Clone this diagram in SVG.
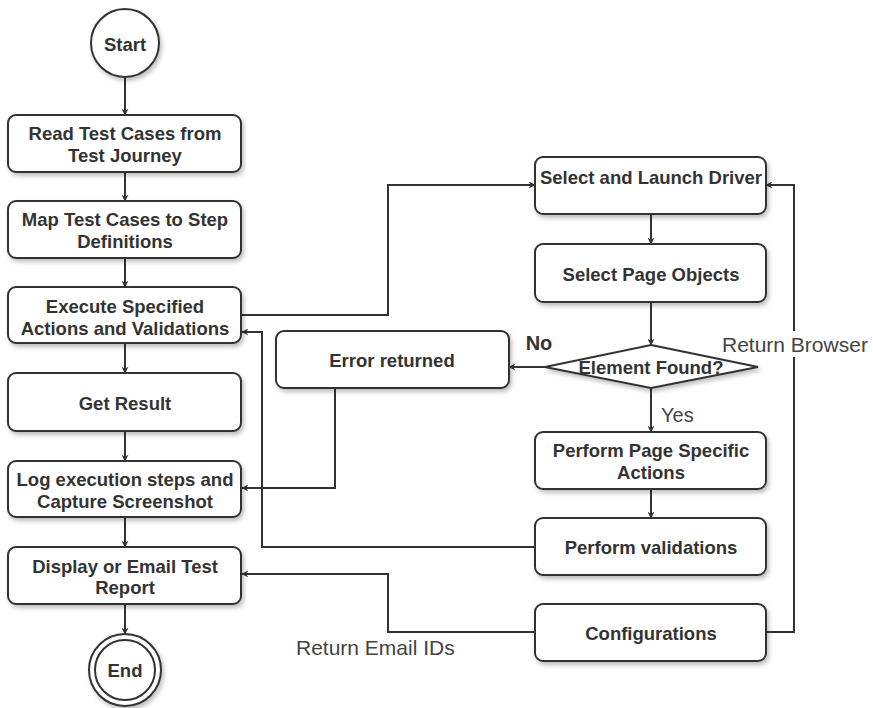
<svg xmlns="http://www.w3.org/2000/svg" width="873" height="708" viewBox="0 0 873 708">
<defs>
<filter id="sh" x="-10%" y="-10%" width="125%" height="140%">
<feDropShadow dx="2" dy="3" stdDeviation="2" flood-color="#000" flood-opacity="0.25"/>
</filter>
<marker id="ah" viewBox="0 0 10 10" refX="9" refY="5" markerWidth="7" markerHeight="7" orient="auto" markerUnits="userSpaceOnUse">
<path d="M0,0 L10,5 L0,10 L3,5 Z" fill="#333"/>
</marker>
<style>
.n{fill:#fff;stroke:#333;stroke-width:2;filter:url(#sh)}
.t{font-family:"Liberation Sans",Arial,sans-serif;font-weight:bold;font-size:18.5px;fill:#333;text-anchor:middle}
.c{fill:none;stroke:#333;stroke-width:2;marker-end:url(#ah)}
.l{font-family:"Liberation Sans",Arial,sans-serif;font-size:21px;fill:#444}
</style>
</defs>
<rect width="873" height="708" fill="#fff"/>
<g id="connectors">
<path class="c" d="M125,77 V115"/>
<path class="c" d="M125,172 V201"/>
<path class="c" d="M125,258 V287"/>
<path class="c" d="M125,343 V373"/>
<path class="c" d="M125,431 V461"/>
<path class="c" d="M125,517 V547"/>
<path class="c" d="M125,604 V634"/>
<path class="c" d="M242,315 H388 V185 H535"/>
<path class="c" d="M651,214 V244"/>
<path class="c" d="M651,302 V345"/>
<path class="c" d="M545,367 H509"/>
<path class="c" d="M651,387 V432"/>
<path class="c" d="M651,489 V518"/>
<path class="c" d="M535,547 H262 V332 H242"/>
<path class="c" d="M335,388 V488 H242"/>
<path class="c" d="M535,632 H388 V574 H242"/>
<path class="c" d="M766,632 H794 V185 H766"/>
</g>
<g id="start"><circle class="n" cx="125" cy="43" r="34"/><text class="t" x="125" y="51">Start</text></g>
<g id="read"><rect class="n" x="8" y="115" width="233" height="57" rx="8"/><text class="t" x="125" y="139.5">Read Test Cases from</text><text class="t" x="125" y="161.5">Test Journey</text></g>
<g id="map"><rect class="n" x="8" y="201" width="233" height="57" rx="8"/><text class="t" x="125" y="225.5">Map Test Cases to Step</text><text class="t" x="125" y="247.5">Definitions</text></g>
<g id="execute"><rect class="n" x="8" y="287" width="233" height="56" rx="8"/><text class="t" x="125" y="313">Execute Specified</text><text class="t" x="125" y="335">Actions and Validations</text></g>
<g id="result"><rect class="n" x="8" y="373" width="233" height="58" rx="8"/><text class="t" x="125" y="409.5">Get Result</text></g>
<g id="log"><rect class="n" x="8" y="461" width="233" height="56" rx="8"/><text class="t" x="125" y="485.5">Log execution steps and</text><text class="t" x="125" y="507.5">Capture Screenshot</text></g>
<g id="display"><rect class="n" x="8" y="547" width="233" height="57" rx="8"/><text class="t" x="125" y="572.5">Display or Email Test</text><text class="t" x="125" y="593.5">Report</text></g>
<g id="end"><circle class="n" cx="125" cy="670" r="36"/><circle cx="125" cy="670" r="30" fill="none" stroke="#333" stroke-width="2"/><text class="t" x="125" y="676.5">End</text></g>
<g id="driver"><rect class="n" x="535" y="157" width="231" height="57" rx="8"/><text class="t" x="651" y="183.5">Select and Launch Driver</text></g>
<g id="pageobj"><rect class="n" x="535" y="244" width="231" height="58" rx="8"/><text class="t" x="651" y="280.5">Select Page Objects</text></g>
<g id="decision"><polygon class="n" points="651,345 758,367 651,388 545,367"/><text class="t" x="651" y="374">Element Found?</text></g>
<g id="error"><rect class="n" x="276" y="331" width="233" height="57" rx="8"/><text class="t" x="392" y="366.5">Error returned</text></g>
<g id="actions"><rect class="n" x="535" y="432" width="231" height="57" rx="8"/><text class="t" x="651" y="456.5">Perform Page Specific</text><text class="t" x="651" y="478.5">Actions</text></g>
<g id="validations"><rect class="n" x="535" y="518" width="231" height="57" rx="8"/><text class="t" x="651" y="553.5">Perform validations</text></g>
<g id="config"><rect class="n" x="535" y="604" width="231" height="57" rx="8"/><text class="t" x="651" y="639.5">Configurations</text></g>
<g id="labels">
<text class="t" x="539" y="350" style="font-size:20px">No</text>
<text class="l" x="661" y="422" style="font-size:20px">Yes</text>
<rect x="720" y="331" width="152" height="26" fill="#fff"/>
<text class="l" x="722" y="352">Return Browser</text>
<rect x="294" y="636" width="164" height="26" fill="#fff"/>
<text class="l" x="296" y="655">Return Email IDs</text>
</g>
</svg>
